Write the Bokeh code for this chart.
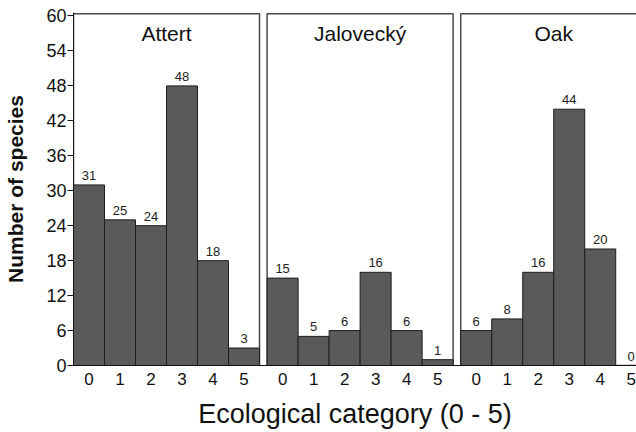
from bokeh.plotting import figure
from bokeh.models import Range1d, FixedTicker, CustomJSTickFormatter, ColumnDataSource
from bokeh.core.properties import value
from bokeh.embed import file_html
from bokeh.resources import INLINE

# ---- data ----
panels = ["Attert", "Jalovecký", "Oak"]
categories = ["0", "1", "2", "3", "4", "5"]
attert = [31, 25, 24, 48, 18, 3]
jalovecky = [15, 5, 6, 16, 6, 1]
oak = [6, 8, 16, 44, 20, 0]
y_ticks = [0, 6, 12, 18, 24, 30, 36, 42, 48, 54, 60]
series = [attert, jalovecky, oak]

FONT = "Liberation Sans"
STEP = 6.245  # panel spacing in category units (layout)

xs, tops, labs = [], [], []
tick_pos, tick_lab = [], []
for k, vals in enumerate(series):
    for i, v in enumerate(vals):
        xs.append(k * STEP + i)
        tops.append(v)
        labs.append(str(v))
        tick_pos.append(k * STEP + i)
        tick_lab.append(categories[i])

src = ColumnDataSource(dict(x=xs, top=tops, lab=labs))

p = figure(width=636, height=432,
           x_range=Range1d(-0.5, 17.66), y_range=Range1d(0, 60.6),
           output_backend="svg", toolbar_location=None,
           min_border_left=73, min_border_right=0,
           min_border_top=12, min_border_bottom=67)
p.outline_line_color = None
p.grid.visible = False
p.background_fill_color = "white"
p.border_fill_color = "white"

# panel frames
pan_left = [k * STEP - 0.5 for k in range(len(panels))]
pan_right = [k * STEP + len(categories) - 0.5 for k in range(len(panels))]
pan_mid = [k * STEP + (len(categories) - 1) / 2 for k in range(len(panels))]
p.quad(left=pan_left, right=pan_right, bottom=0, top=60.4,
       fill_color=None, line_color="#4a4a4a", line_width=1.5)

# bars
p.vbar(x="x", top="top", width=1.0, bottom=0, source=src,
       fill_color="#5a5a5a", line_color="#1e1e1e", line_width=1)

# value labels
p.text(x="x", y="top", text="lab", source=src,
       text_font=value(FONT), text_font_size="13px", text_color="#222222",
       text_align="center", text_baseline="bottom", y_offset=-5)

# panel titles
p.text(x=pan_mid, y=[57.0] * len(panels), text=panels,
       text_font=value(FONT), text_font_size="21px", text_color="#111111",
       text_align="center", text_baseline="middle")

# y axis
p.yaxis.ticker = FixedTicker(ticks=y_ticks)
p.yaxis.minor_tick_line_color = None
p.yaxis.major_tick_in = 0
p.yaxis.major_tick_out = 6
p.yaxis.major_tick_line_color = "#111111"
p.yaxis.axis_line_color = "#111111"
p.yaxis.major_label_text_font = FONT
p.yaxis.major_label_text_font_size = "18px"
p.yaxis.major_label_text_color = "#111111"
p.yaxis.major_label_standoff = 1
p.yaxis.axis_label = "Number of species"
p.yaxis.axis_label_text_font = FONT
p.yaxis.axis_label_text_font_size = "21px"
p.yaxis.axis_label_text_font_style = "bold"
p.yaxis.axis_label_text_color = "#111111"
p.yaxis.axis_label_standoff = 16

# x axis
p.xaxis.ticker = FixedTicker(ticks=tick_pos)
p.xaxis.formatter = CustomJSTickFormatter(
    args=dict(pos=tick_pos, lab=tick_lab),
    code="for (let i = 0; i < pos.length; i++) { if (Math.abs(pos[i] - tick) < 1e-6) return lab[i]; } return '';")
p.xaxis.minor_tick_line_color = None
p.xaxis.major_tick_line_color = None
p.xaxis.major_tick_in = 0
p.xaxis.major_tick_out = 0
p.xaxis.axis_line_color = "#111111"
p.xaxis.major_label_text_font = FONT
p.xaxis.major_label_text_font_size = "17px"
p.xaxis.major_label_text_color = "#111111"
p.xaxis.major_label_standoff = 7
p.xaxis.axis_label = "Ecological category (0 - 5)"
p.xaxis.axis_label_text_font = FONT
p.xaxis.axis_label_text_font_size = "27px"
p.xaxis.axis_label_text_font_style = "normal"
p.xaxis.axis_label_text_color = "#111111"
p.xaxis.axis_label_standoff = 11

open("out.html", "w").write(file_html(p, INLINE))
